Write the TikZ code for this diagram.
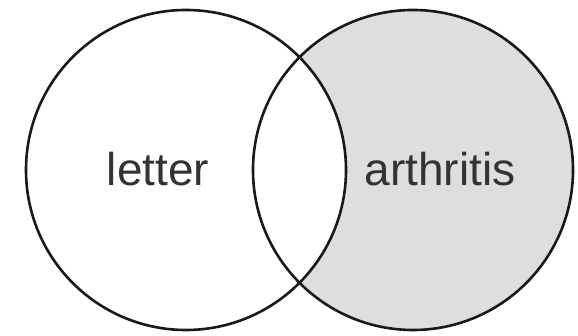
\documentclass[tikz,border=0pt]{standalone}
\usepackage{fontspec}
\setmainfont{Liberation Sans}
\begin{document}
\begin{tikzpicture}[x=1pt,y=1pt,
  ring/.style={draw=black!90,line width=2.6pt},
  lbl/.style={font=\fontsize{46}{50}\selectfont,text=black!80,inner sep=0pt,anchor=base}]
\useasboundingbox (0,0) rectangle (578,336);
\coordinate (cl) at (186,166);
\coordinate (cr) at (413,166);
\fill[fill={rgb,255:red,222;green,222;blue,222}] (cr) circle[radius=160];
\fill[white] (cl) circle[radius=160];
\draw[ring] (cl) circle[radius=160];
\draw[ring] (cr) circle[radius=160];
\node[lbl] (a) at (158,150) {letter};
\node[lbl] (b) at (440,150) {arthritis};
\end{tikzpicture}
\end{document}
